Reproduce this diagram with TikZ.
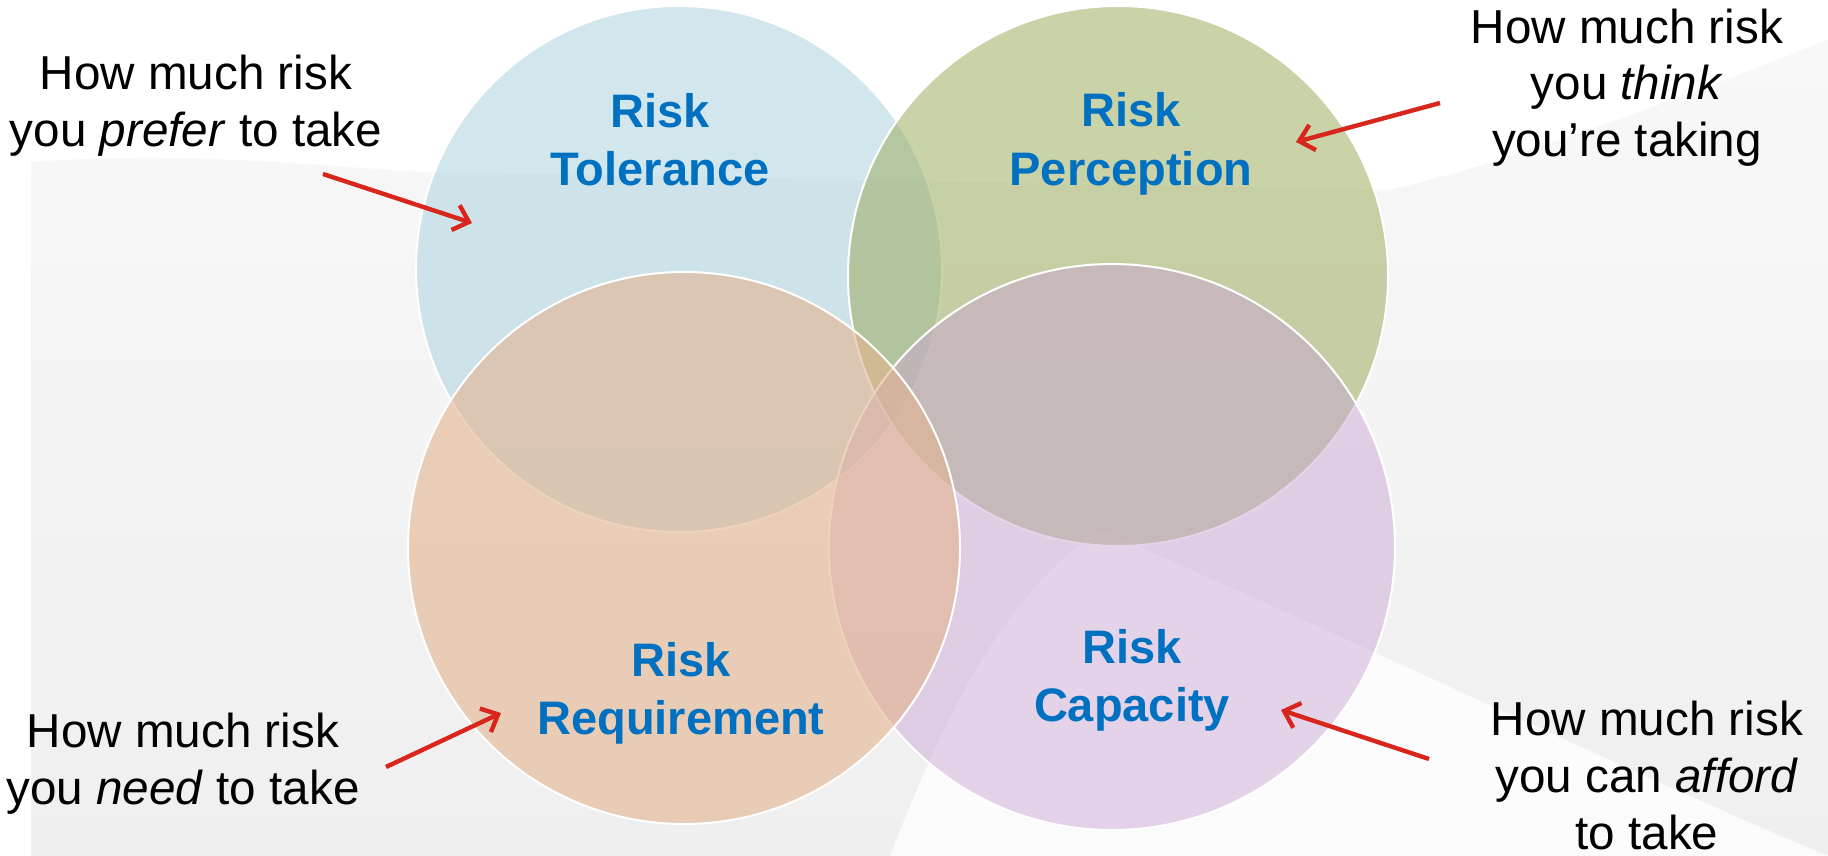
\documentclass[tikz,border=0pt]{standalone}
\usepackage{fontspec}
\setmainfont{Liberation Sans}
\usetikzlibrary{arrows.meta}
\definecolor{tolblue}{RGB}{170,209,222}
\definecolor{pergreen}{RGB}{155,170,90}
\definecolor{reqpeach}{RGB}{227,180,142}
\definecolor{caplilac}{RGB}{201,165,211}
\definecolor{riskblue}{RGB}{0,112,192}
\definecolor{arrowred}{RGB}{217,38,28}
\definecolor{photogrey}{RGB}{239,239,239}
\definecolor{mistgrey}{RGB}{248,248,248}

\begin{document}
\begin{tikzpicture}[x=0.5pt, y=-0.5pt]
 \tikzstyle{venn}=[circle, draw=white, line width=1pt, inner sep=0pt, outer sep=0pt]
 \tikzstyle{riskname}=[text=riskblue, font=\fontsize{23.5}{29}\selectfont\bfseries, align=center, anchor=base]
 \tikzstyle{howmuch}=[text=black, font=\fontsize{23.8}{28.5}\selectfont, align=center, anchor=base]
 \tikzstyle{pointer}=[-{Straight Barb[length=7pt, width=13pt]}, line width=2.2pt, draw=arrowred]
 %
 \useasboundingbox (0,0) rectangle (1828,856);
 % faded photo behind the circles
 \fill[white] (0,0) rectangle (1828,856);
 \shade[top color=mistgrey, bottom color=photogrey]
   (31,856) -- (31,162) .. controls (200,150) and (330,168) .. (430,172)
   -- (1390,190) .. controls (1520,160) and (1700,90) .. (1828,40) -- (1828,856) -- cycle;
 \fill[white, opacity=0.8] (1100,530) .. controls (1400,660) and (1600,760) .. (1828,856)
   -- (890,856) .. controls (950,700) and (1010,590) .. (1100,530) -- cycle;
 %
 \node[venn, fill=tolblue, fill opacity=0.52, minimum size=263pt] (tol) at (679,269) {};
 \node[venn, fill=pergreen, fill opacity=0.52, minimum size=270pt] (per) at (1118,276) {};
 \node[venn, fill=caplilac, fill opacity=0.48, minimum size=283pt] (cap) at (1112,547) {};
 \node[venn, fill=reqpeach, fill opacity=0.60, minimum size=276pt] (req) at (684,548) {};
 %
 \node[riskname] (tname) at (660,186) {Risk\\Tolerance};
 \node[riskname] (pname) at (1131,185) {Risk\\Perception};
 \node[riskname] (rname) at (681,734) {Risk\\Requirement};
 \node[riskname] (cname) at (1132,721) {Risk\\Capacity};
 %
 \node[howmuch] (tnote) at (196,147) {How much risk\\you \textit{prefer} to take};
 \node[howmuch] (pnote) at (1627,157) {How much risk\\you \textit{think}\\you’re taking};
 \node[howmuch] (rnote) at (183,804) {How much risk\\you \textit{need} to take};
 \node[howmuch] (cnote) at (1647,849) {How much risk\\you can \textit{afford}\\to take};
 %
 \coordinate (tfrom) at (323,174);
 \coordinate (tto) at (472,223);
 \coordinate (pfrom) at (1440,103);
 \coordinate (pto) at (1296,142);
 \coordinate (rfrom) at (386,767);
 \coordinate (rto) at (501,713);
 \coordinate (cfrom) at (1429,759);
 \coordinate (cto) at (1281,710);
 %%
 \draw[pointer] (tfrom)--(tto);
 \draw[pointer] (pfrom)--(pto);
 \draw[pointer] (rfrom)--(rto);
 \draw[pointer] (cfrom)--(cto);
\end{tikzpicture}
\end{document}
